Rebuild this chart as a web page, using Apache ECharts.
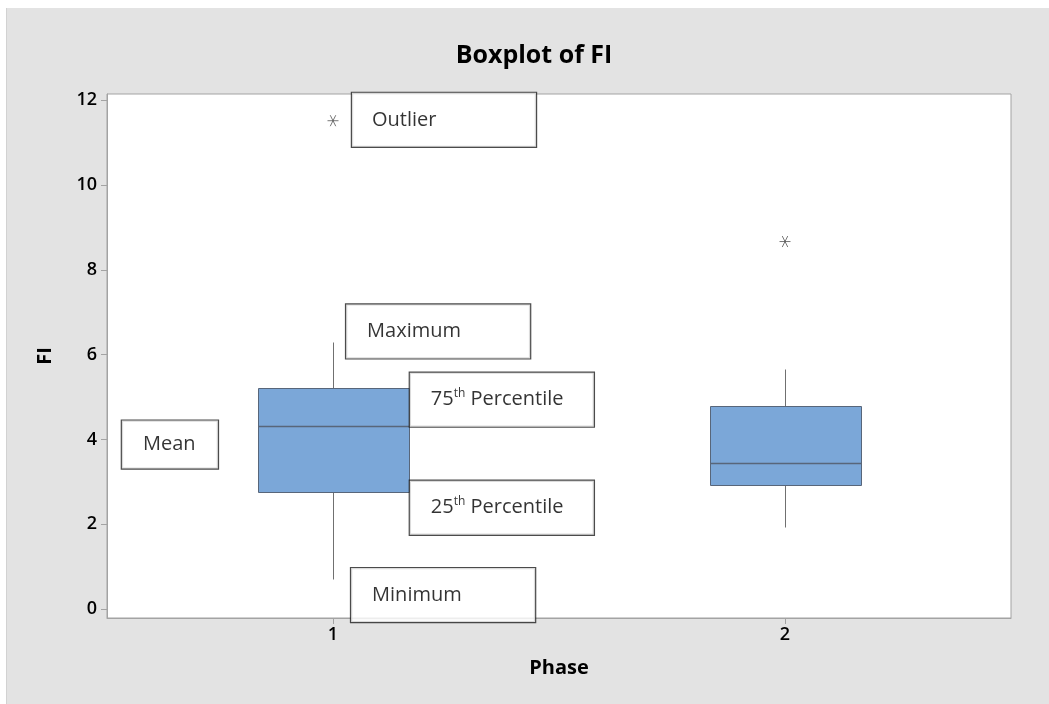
<!DOCTYPE html>
<html><head><meta charset="utf-8">
<script src="https://cdn.jsdelivr.net/npm/echarts@6/dist/echarts.min.js"></script>
<style>
html,body{margin:0;padding:0;background:#fff;}
#c{position:absolute;left:6px;top:8px;width:1042px;height:696px;border-left:1px solid #d2d2d2;}
</style>
</head><body><div id="c"></div>
<script>
// ---- data ----
const categories = ['1', '2'];
const whiskerLow  = [0.72, 1.94];
const q1          = [2.76, 2.93];
const median      = [4.32, 3.45];
const q3          = [5.21, 4.80];
const whiskerHigh = [6.29, 5.66];
const outlierCategory = [0, 1];
const outlierValue    = [11.52, 8.67];
const yTicks = [0, 2, 4, 6, 8, 10, 12];
const annotationTexts = ['Outlier', 'Maximum', '{n|75}{s|th}{n| Percentile}', 'Mean', '{n|25}{s|th}{n| Percentile}', 'Minimum'];

// ---- annotation layout (data-space anchors: left edge, vertical centre) ----
const annotationLayout = [
  {x: 1.042, y: 11.54, w: 186, h: 56, pad: 20},
  {x: 1.029, y: 6.55,  w: 186, h: 56, pad: 21},
  {x: 1.170, y: 4.94,  w: 186, h: 56, pad: 21},
  {x: 0.533, y: 3.88,  w: 98,  h: 50, pad: 21},
  {x: 1.170, y: 2.39,  w: 186, h: 56, pad: 21},
  {x: 1.040, y: 0.33,  w: 186, h: 56, pad: 21}
];

const FONT = '"Open Sans", "Noto Sans", sans-serif';
const chart = echarts.init(document.getElementById('c'), null, {renderer: 'canvas'});

const boxData = categories.map((c, i) => [i, whiskerLow[i], q1[i], median[i], q3[i], whiskerHigh[i]]);
const outlierData = outlierCategory.map((c, i) => [c, outlierValue[i]]);

const annData = annotationLayout.map((a, i) => ({
  value: [a.x, a.y],
  label: {
    formatter: annotationTexts[i].indexOf('{') >= 0 ? annotationTexts[i] : '{n|' + annotationTexts[i] + '}',
    width: a.w - a.pad - 2,
    padding: [(a.h - 24) / 2 - 1, 0, (a.h - 24) / 2 - 1, a.pad]
  }
}));

const option = {
  backgroundColor: '#e3e3e3',
  animation: false,
  title: {
    text: 'Boxplot of FI',
    left: 522, top: 30, textAlign: 'center',
    textStyle: {fontFamily: FONT, fontSize: 25, fontWeight: 'bold', color: '#000'}
  },
  grid: {left: 100, top: 86, right: 38, bottom: 86, show: true, backgroundColor: '#fff', borderColor: '#a3a3a3', borderWidth: 1},
  xAxis: [{
    type: 'category', data: categories, boundaryGap: true,
    name: 'Phase', nameLocation: 'middle', nameGap: 40,
    nameTextStyle: {fontFamily: FONT, fontSize: 20, fontWeight: 'bold', color: '#000'},
    axisLine: {show: true, onZero: false, lineStyle: {color: '#a3a3a3'}},
    axisTick: {show: true, alignWithLabel: true, length: 6, lineStyle: {color: '#a3a3a3'}},
    axisLabel: {fontFamily: FONT, fontSize: 18, fontWeight: 600, color: '#000', margin: 8},
    splitLine: {show: false}
  }, {
    type: 'value', min: 0.5, max: 2.5, show: false
  }],
  yAxis: {
    type: 'value', min: -0.21, max: 12.15,
    name: 'FI', nameLocation: 'middle', nameGap: 52,
    nameTextStyle: {fontFamily: FONT, fontSize: 20, fontWeight: 'bold', color: '#000'},
    axisLine: {show: true, lineStyle: {color: '#a3a3a3'}},
    axisTick: {show: true, customValues: yTicks, length: 6, lineStyle: {color: '#a3a3a3'}},
    axisLabel: {customValues: yTicks, fontFamily: FONT, fontSize: 18, fontWeight: 600, color: '#000', margin: 10},
    splitLine: {show: false}
  },
  series: [{
    type: 'custom',
    xAxisIndex: 0, yAxisIndex: 0,
    data: boxData,
    encode: {x: 0, y: [1, 2, 3, 4, 5]},
    renderItem: function (params, api) {
      const i = api.value(0);
      const lo = api.coord([i, api.value(1)]);
      const b1 = api.coord([i, api.value(2)]);
      const md = api.coord([i, api.value(3)]);
      const b3 = api.coord([i, api.value(4)]);
      const hi = api.coord([i, api.value(5)]);
      const bw = Math.round(api.size([1, 0])[0] * 0.334);
      const x = Math.round(lo[0]) + 0.5;
      const left = Math.round(x - bw / 2) + 0.5;
      const r = v => Math.round(v) + 0.5;
      return {type: 'group', children: [
        {type: 'line', shape: {x1: x, y1: r(hi[1]), x2: x, y2: r(b3[1])}, style: {stroke: '#707070', lineWidth: 1}},
        {type: 'line', shape: {x1: x, y1: r(b1[1]), x2: x, y2: r(lo[1])}, style: {stroke: '#707070', lineWidth: 1}},
        {type: 'rect', shape: {x: left, y: r(b3[1]), width: bw, height: r(b1[1]) - r(b3[1])}, style: {fill: '#7ba7d8', stroke: '#58667a', lineWidth: 1}},
        {type: 'line', shape: {x1: left, y1: r(md[1]), x2: left + bw, y2: r(md[1])}, style: {stroke: '#58667a', lineWidth: 1.4}}
      ]};
    }
  }, {
    type: 'scatter',
    xAxisIndex: 0, yAxisIndex: 0,
    data: outlierData,
    symbol: 'path://M0,5 L10,5 M2.5,0.67 L7.5,9.33 M7.5,0.67 L2.5,9.33',
    symbolSize: 11,
    itemStyle: {color: 'none', borderColor: '#555', borderWidth: 1}
  }, {
    type: 'scatter',
    xAxisIndex: 1, yAxisIndex: 0,
    data: annData,
    symbolSize: 0,
    silent: true,
    z: 10,
    label: {
      show: true, position: 'right', distance: 0,
      backgroundColor: '#fff', borderColor: '#1e1e1e', borderWidth: 1.2,
      align: 'left',
      fontFamily: FONT, color: '#000',
      rich: {
        n: {fontFamily: FONT, fontSize: 20, lineHeight: 24, color: '#000'},
        s: {fontFamily: FONT, fontSize: 12, lineHeight: 12, verticalAlign: 'top', color: '#000'}
      }
    }
  }]
};
chart.setOption(option);
</script>
</body></html>
